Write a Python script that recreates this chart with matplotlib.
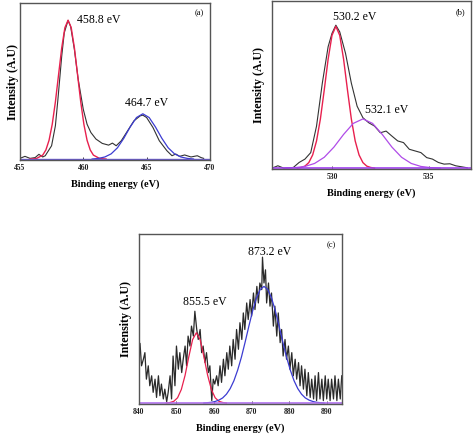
import matplotlib.pyplot as plt

plt.rcParams['font.family'] = ['Liberation Serif', 'DejaVu Serif']

# ====== Data (intensity in arbitrary units, 0 = baseline) ======

# (a) Ti 2p
a_energy = [455.0, 455.4, 455.8, 456.2, 456.5, 456.8, 457.0, 457.5, 457.8, 458.0,
            458.3, 458.5, 458.8, 459.0, 459.3, 459.6, 460.0, 460.3, 460.6, 461.0,
            461.5, 462.0, 462.3, 462.6, 463.0, 463.5, 464.0, 464.5, 464.7, 465.0,
            465.5, 466.0, 466.3, 466.6, 467.0, 467.3, 467.6, 468.0, 468.5, 469.0,
            469.3, 469.5]
a_counts = [0.4, 1.7, 0.4, 0.9, 3.0, 1.3, 2.1, 8.5, 21.3, 38.3,
            66.0, 80.9, 88.9, 85.1, 70.2, 51.1, 31.9, 22.3, 17.0, 12.8,
            10.0, 8.9, 10.2, 8.5, 11.7, 18.1, 24.5, 27.7, 28.1, 26.6,
            20.2, 11.7, 8.5, 5.3, 2.1, 3.2, 1.7, 2.6, 1.3, 2.1,
            0.9, 0.4]
a_fit1_x = [455.8, 456.3, 456.8, 457.05, 457.3, 457.55, 457.8, 458.05, 458.3, 458.55,
            458.8, 459.05, 459.3, 459.55, 459.8, 460.05, 460.3, 460.55, 460.8, 461.3,
            461.8]
a_fit1_y = [0.0, 0.3, 2.5, 5.8, 12.0, 22.2, 36.6, 54.0, 71.3, 84.2,
            89.0, 84.2, 71.3, 54.0, 36.6, 22.2, 12.0, 5.8, 2.5, 0.3,
            0.0]
a_fit2_x = [460.7, 461.2, 461.7, 462.2, 462.7, 463.2, 463.7, 464.2, 464.7, 465.2,
            465.7, 466.2, 466.7, 467.2, 467.7, 468.2, 468.7]
a_fit2_y = [0.0, 0.4, 1.3, 3.3, 7.2, 13.3, 20.5, 26.6, 29.0, 26.6,
            20.5, 13.3, 7.2, 3.3, 1.3, 0.4, 0.0]

# (b) O 1s
b_energy = [526.9, 527.2, 527.5, 528.0, 528.3, 528.6, 528.9, 529.2, 529.5, 529.8,
            530.0, 530.2, 530.4, 530.7, 531.0, 531.3, 531.6, 531.9, 532.2, 532.5,
            532.8, 533.1, 533.4, 533.7, 534.0, 534.3, 534.6, 534.9, 535.2, 535.5,
            535.8, 536.1, 536.4, 536.7, 537.0]
b_counts = [0.0, 1.4, 0.0, 0.4, 3.4, 5.4, 9.3, 25.2, 51.0, 72.8,
            80.8, 85.7, 81.7, 68.8, 51.0, 37.1, 30.2, 27.2, 25.2, 21.2,
            22.2, 19.2, 16.3, 15.3, 11.3, 10.3, 9.3, 6.3, 5.4, 3.4,
            2.4, 2.6, 1.4, 0.8, 0.2]
b_fit1_x = [528.2, 528.4, 528.6, 528.8, 529.0, 529.2, 529.4, 529.6, 529.8, 530.0,
            530.2, 530.4, 530.6, 530.8, 531.0, 531.2, 531.4, 531.6, 531.8, 532.0,
            532.2]
b_fit1_y = [0.0, 0.4, 1.2, 3.3, 7.9, 16.3, 29.5, 46.9, 65.3, 79.6,
            85.0, 79.6, 65.3, 46.9, 29.5, 16.3, 7.9, 3.3, 1.2, 0.4,
            0.0]
b_fit2_x = [527.6, 528.1, 528.6, 529.1, 529.6, 530.1, 530.6, 531.1, 531.6,
            532.1, 532.6, 533.1, 533.6, 534.1, 534.6, 535.1, 535.6]
b_fit2_y = [0.0, 0.3, 1.0, 2.8, 6.5, 12.6, 20.2, 26.8, 29.5,
            26.8, 20.2, 12.6, 6.5, 2.8, 1.0, 0.3, 0.0]

# (c) Ni 2p
c_energy = [840.0, 840.3, 840.7, 841.2, 841.6, 842.0, 842.5, 842.9, 843.4, 843.8,
            844.3, 844.7, 845.2, 845.6, 846.0, 846.5, 846.9, 847.4, 847.8, 848.3,
            848.7, 849.1, 849.6, 850.0, 850.5, 850.9, 851.4, 851.8, 852.3, 852.7,
            853.1, 853.6, 854.0, 854.5, 854.9, 855.4, 855.8, 856.3, 856.7, 857.1,
            857.6, 858.0, 858.5, 858.9, 859.4, 859.8, 860.2, 860.7, 861.1, 861.6,
            862.0, 862.5, 862.9, 863.4, 863.8, 864.2, 864.7, 865.1, 865.6, 866.0,
            866.5, 866.9, 867.4, 867.8, 868.2, 868.7, 869.1, 869.6, 870.0, 870.5,
            870.9, 871.4, 871.8, 872.2, 872.7, 872.9, 873.3, 873.7, 874.0, 874.5,
            874.9, 875.3, 875.8, 876.2, 876.7, 877.1, 877.6, 878.0, 878.4, 878.9,
            879.3, 879.8, 880.2, 880.7, 881.1, 881.6, 882.0, 882.5, 882.9, 883.3,
            883.8, 884.2, 884.7, 885.1, 885.6, 886.0, 886.5, 886.9, 887.3, 887.8,
            888.2, 888.7, 889.1, 889.6, 890.0, 890.4, 890.9, 891.3, 891.8, 892.2,
            892.7, 893.1, 893.6, 894.0]
c_counts = [25.9, 35.3, 22.0, 25.9, 29.8, 14.1, 22.0, 10.2, 16.1, 6.3,
            14.1, 3.3, 16.1, 4.3, 11.2, 2.4, 8.2, 0.8, 6.3, 16.1,
            2.4, 27.8, 10.2, 33.7, 20.0, 29.8, 18.0, 25.9, 33.7, 22.0,
            39.6, 33.7, 45.5, 39.6, 54.3, 43.5, 37.6, 43.5, 29.8, 33.7,
            23.9, 29.8, 18.0, 22.0, 1.4, 14.1, 11.2, 16.1, 10.2, 22.0,
            12.2, 25.9, 16.1, 29.8, 20.0, 33.7, 22.0, 37.6, 25.9, 43.5,
            31.8, 47.5, 37.6, 53.3, 43.5, 59.2, 49.4, 61.2, 51.4, 65.1,
            55.3, 69.0, 59.2, 71.0, 67.1, 86.3, 71.0, 78.8, 59.2, 71.0,
            57.3, 65.1, 45.5, 57.3, 39.6, 53.3, 35.7, 43.5, 27.8, 37.6,
            25.9, 33.7, 20.0, 29.8, 16.1, 25.9, 14.1, 23.9, 10.2, 22.0,
            8.2, 20.0, 4.3, 18.0, 3.3, 14.1, 2.4, 16.1, 1.4, 18.0,
            2.4, 14.1, 1.4, 16.1, 2.4, 14.1, 1.4, 14.1, 2.4, 16.1,
            1.4, 14.1, 2.4, 16.1]
c_fit1_x = [847.3, 848.3, 849.3, 850.3, 851.3, 852.3, 853.3, 854.3, 855.3, 856.3,
            857.3, 858.3, 859.3, 860.3, 861.3, 862.3, 863.3]
c_fit1_y = [0.0, 0.3, 1.0, 3.1, 8.0, 16.4, 27.5, 37.5, 41.6, 37.5,
            27.5, 16.4, 8.0, 3.1, 1.0, 0.3, 0.0]
c_fit2_x = [857.3, 858.3, 859.3, 860.3, 861.3, 862.3, 863.3, 864.3, 865.3, 866.3,
            867.3, 868.3, 869.3, 870.3, 871.3, 872.3, 873.3, 874.3, 875.3, 876.3,
            877.3, 878.3, 879.3, 880.3, 881.3, 882.3, 883.3, 884.3, 885.3, 886.3,
            887.3, 888.3, 889.3]
c_fit2_y = [0.0, 0.2, 0.4, 0.9, 1.7, 3.0, 5.2, 8.5, 13.2, 19.5,
            27.2, 36.2, 45.7, 54.7, 62.2, 67.2, 69.0, 67.2, 62.2, 54.7,
            45.7, 36.2, 27.2, 19.5, 13.2, 8.5, 5.2, 3.0, 1.7, 0.9,
            0.4, 0.2, 0.0]

# ====== Plot ======

RED = '#e8204e'
BLUE = '#3c3cd2'
SPINE = '#555555'


def style(ax, xlim, ticks, tag, ylabel_pad):
    ax.set_xlim(*xlim)
    ax.set_ylim(-0.6, 100)
    ax.set_xticks(ticks)
    ax.set_yticks([])
    ax.tick_params(axis='x', direction='in', length=2.5, width=0.6,
                   labelsize=5.5, pad=3, colors='#222222')
    for lab in ax.get_xticklabels():
        lab.set_fontweight('bold')
    for s in ax.spines.values():
        s.set_color(SPINE)
        s.set_linewidth(1.0)
    ax.set_xlabel('Binding energy (eV)', fontsize=7.4, fontweight='bold', labelpad=5)
    ax.set_ylabel('Intensity (A.U)', fontsize=8.6, fontweight='bold', labelpad=ylabel_pad)
    ax.text(0.97, 0.96, tag, transform=ax.transAxes, ha='right', va='top', fontsize=6)


fig = plt.figure(figsize=(4.74, 4.37), dpi=100)

# (a)
ax = fig.add_axes([0.042, 0.634, 0.401, 0.359])
ax.plot(a_energy, a_counts, color='#333333', lw=0.8)
ax.plot(a_fit1_x, a_fit1_y, color=RED, lw=1.0)
ax.plot(a_fit2_x, a_fit2_y, color=BLUE, lw=0.9)
ax.axhline(0, color='#6a5acd', lw=1.0)
ax.text(459.5, 89, '458.8 eV', fontsize=8.5, va='center')
ax.text(463.3, 36, '464.7 eV', fontsize=8.5, va='center')
style(ax, (455, 470), [455, 460, 465, 470], '(a)', 1)

# (b)
ax = fig.add_axes([0.574, 0.613, 0.420, 0.384])
ax.plot(b_energy, b_counts, color='#333333', lw=0.8)
ax.plot(b_fit1_x, b_fit1_y, color=RED, lw=1.0)
ax.plot(b_fit2_x, b_fit2_y, color='#b04ce8', lw=0.9)
ax.axhline(0, color='#a040f0', lw=1.2)
ax.text(530.05, 90.5, '530.2 eV', fontsize=8.5, va='center')
ax.text(531.7, 35, '532.1 eV', fontsize=8.5, va='center')
style(ax, (526.9, 537.2), [530, 535], '(b)', 5)

# (c)
ax = fig.add_axes([0.293, 0.0755, 0.428, 0.389])
ax.plot(c_energy, c_counts, color='#2a2a2a', lw=0.9)
ax.plot(c_fit1_x, c_fit1_y, color=RED, lw=0.9)
ax.plot(c_fit2_x, c_fit2_y, color=BLUE, lw=0.9)
ax.axhline(0, color='#b070f0', lw=1.2)
ax.text(851.7, 60, '855.5 eV', fontsize=8.5, va='center')
ax.text(869.0, 89.4, '873.2 eV', fontsize=8.5, va='center')
style(ax, (840, 894), [840, 850, 860, 870, 880, 890], '(c)', 5)

fig.savefig('out.png', dpi=100, facecolor='white')
